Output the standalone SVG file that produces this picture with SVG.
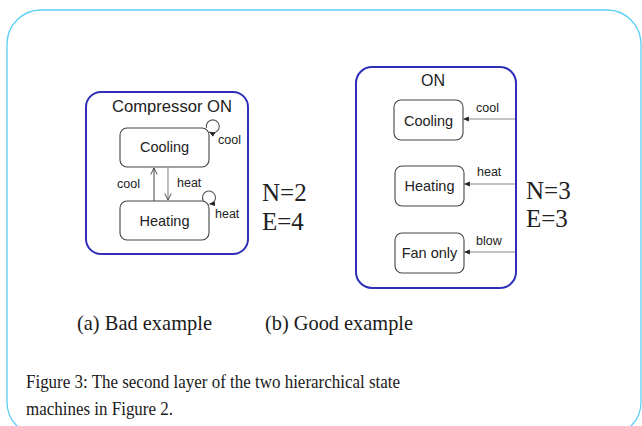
<svg xmlns="http://www.w3.org/2000/svg" width="642" height="426" viewBox="0 0 642 426">
  <style>
    .frame { fill: none; stroke: #5dcff2; stroke-width: 1.3; }
    .super { fill: #ffffff; stroke: #2e2eb8; stroke-width: 2; }
    .state { fill: #ffffff; stroke: #444444; stroke-width: 1.1; }
    .lbl { font-family: "Liberation Sans", Arial, sans-serif; fill: #222222; }
    .name { font-size: 14.5px; text-anchor: middle; }
    .ev { font-size: 12.5px; }
    .title { font-size: 16px; text-anchor: middle; }
    .metric { font-family: "Liberation Serif", "Times New Roman", serif; font-size: 25px; fill: #222222; }
    .cap { font-family: "Liberation Serif", "Times New Roman", serif; fill: #1a1a1a; }
    .edge { fill: none; stroke: #555555; stroke-width: 1.1; }
    .edge-light { fill: none; stroke: #888888; stroke-width: 1.1; }
  </style>
  <defs>
    <marker id="solid" viewBox="0 0 10 10" refX="9" refY="5" markerWidth="6" markerHeight="6" orient="auto" markerUnits="userSpaceOnUse">
      <path d="M0,1 L10,5 L0,9 Z" fill="#222222"/>
    </marker>
    <marker id="open" viewBox="0 0 10 10" refX="9" refY="5" markerWidth="8" markerHeight="8" orient="auto" markerUnits="userSpaceOnUse">
      <path d="M1,1 L9,5 L1,9" fill="none" stroke="#444444" stroke-width="1.2"/>
    </marker>
  </defs>

  <!-- page frame -->
  <rect class="frame" x="7" y="10" width="634" height="426" rx="34"/>

  <!-- (a) compressor superstate -->
  <g id="compressor-on">
    <rect class="super" x="86" y="92" width="162" height="162" rx="15"/>
    <text class="lbl title" x="172" y="112" textLength="120" lengthAdjust="spacingAndGlyphs">Compressor ON</text>
  </g>
  <g id="a-cooling">
    <rect class="state" x="120" y="128" width="89" height="39" rx="7"/>
    <text class="lbl name" x="164.5" y="152">Cooling</text>
  </g>
  <g id="a-heating">
    <rect class="state" x="120" y="201" width="89" height="39" rx="7"/>
    <text class="lbl name" x="164.5" y="226">Heating</text>
  </g>

  <!-- (b) ON superstate -->
  <g id="on">
    <rect class="super" x="356" y="67" width="160" height="221" rx="16"/>
    <text class="lbl title" x="433" y="86">ON</text>
  </g>
  <g id="b-cooling">
    <rect class="state" x="394" y="100" width="69" height="40" rx="7"/>
    <text class="lbl name" x="428.5" y="126">Cooling</text>
  </g>
  <g id="b-heating">
    <rect class="state" x="395" y="166" width="69" height="40" rx="7"/>
    <text class="lbl name" x="429.5" y="191">Heating</text>
  </g>
  <g id="b-fan-only">
    <rect class="state" x="395" y="233" width="69" height="40" rx="7"/>
    <text class="lbl name" x="429.5" y="258">Fan only</text>
  </g>

  <!-- transitions -->
  <g id="connectors">
    <!-- (a) -->
    <line class="edge" x1="154" y1="201" x2="154" y2="168" marker-end="url(#open)"/>
    <line class="edge-light" x1="168" y1="167" x2="168" y2="200" marker-end="url(#open)"/>
    <path class="edge" d="M206.5,128 A6.5,6.5 0 1 1 209.5,132" marker-end="url(#solid)"/>
    <path class="edge" d="M203.5,201 A6.5,6.5 0 1 1 209.5,204" marker-end="url(#solid)"/>
    <!-- (b) -->
    <line class="edge-light" x1="515" y1="119" x2="463.5" y2="119" marker-end="url(#solid)"/>
    <line class="edge-light" x1="515" y1="184" x2="464.5" y2="184" marker-end="url(#solid)"/>
    <line class="edge-light" x1="515" y1="252" x2="464.5" y2="252" marker-end="url(#solid)"/>
  </g>

  <!-- event labels -->
  <text class="lbl ev" x="117" y="188">cool</text>
  <text class="lbl ev" x="177" y="187">heat</text>
  <text class="lbl ev" x="218" y="144">cool</text>
  <text class="lbl ev" x="215" y="218">heat</text>
  <text class="lbl ev" x="476" y="112">cool</text>
  <text class="lbl ev" x="477" y="176">heat</text>
  <text class="lbl ev" x="476" y="245">blow</text>

  <!-- counts -->
  <text class="metric" x="262" y="201">N=2</text>
  <text class="metric" x="262" y="230">E=4</text>
  <text class="metric" x="526" y="199">N=3</text>
  <text class="metric" x="526" y="227">E=3</text>

  <!-- captions -->
  <text class="cap" x="77" y="330" font-size="22" textLength="135" lengthAdjust="spacingAndGlyphs">(a) Bad example</text>
  <text class="cap" x="265" y="330" font-size="22" textLength="148" lengthAdjust="spacingAndGlyphs">(b) Good example</text>
  <text class="cap" x="26" y="388" font-size="18" textLength="374" lengthAdjust="spacingAndGlyphs">Figure 3: The second layer of the two hierarchical state</text>
  <text class="cap" x="26" y="415" font-size="18" textLength="147" lengthAdjust="spacingAndGlyphs">machines in Figure 2.</text>
</svg>
